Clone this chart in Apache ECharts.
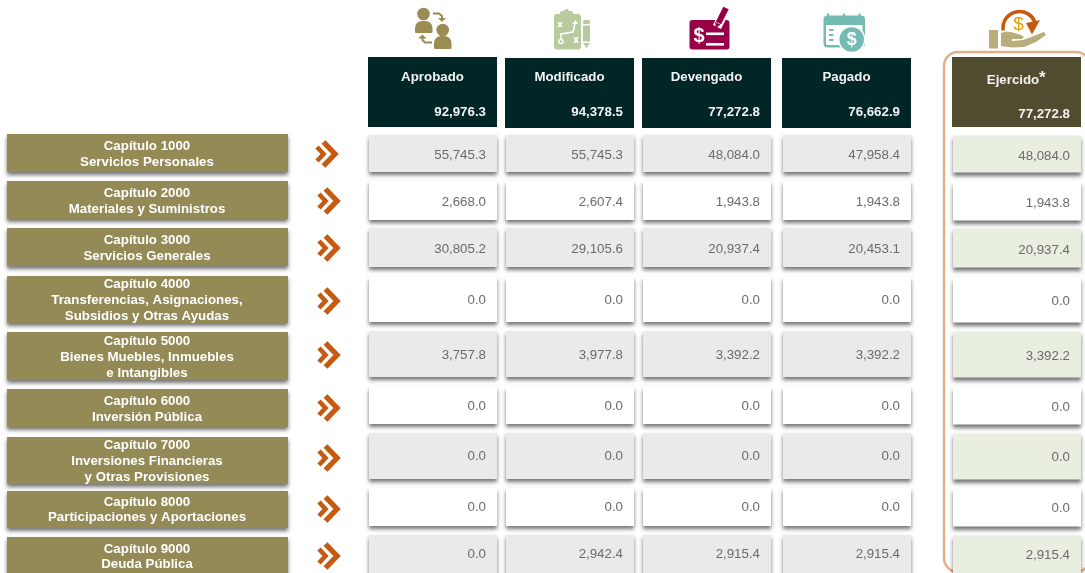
<!DOCTYPE html>
<html>
<head>
<meta charset="utf-8">
<style>
  html, body { margin: 0; padding: 0; background: #fff; }
  #chart { width: 1085px; height: 573px; }
</style>
<script src="https://cdn.jsdelivr.net/npm/echarts@6/dist/echarts.min.js"></script>
</head>
<body>
<div id="chart"></div>
<script>
// datos de la tabla
const categories = [
  'Capítulo 1000\nServicios Personales',
  'Capítulo 2000\nMateriales y Suministros',
  'Capítulo 3000\nServicios Generales',
  'Capítulo 4000\nTransferencias, Asignaciones,\nSubsidios y Otras Ayudas',
  'Capítulo 5000\nBienes Muebles, Inmuebles\ne Intangibles',
  'Capítulo 6000\nInversión Pública',
  'Capítulo 7000\nInversiones Financieras\ny Otras Provisiones',
  'Capítulo 8000\nParticipaciones y Aportaciones',
  'Capítulo 9000\nDeuda Pública'
]
const columnNames = ['Aprobado', 'Modificado', 'Devengado', 'Pagado', 'Ejercido']
const totals = [92976.3, 94378.5, 77272.8, 76662.9, 77272.8]
const aprobado = [55745.3, 2668.0, 30805.2, 0, 3757.8, 0, 0, 0, 0]
const modificado = [55745.3, 2607.4, 29105.6, 0, 3977.8, 0, 0, 0, 2942.4]
const devengado = [48084.0, 1943.8, 20937.4, 0, 3392.2, 0, 0, 0, 2915.4]
const pagado = [47958.4, 1943.8, 20453.1, 0, 3392.2, 0, 0, 0, 2915.4]
const ejercido = [48084.0, 1943.8, 20937.4, 0, 3392.2, 0, 0, 0, 2915.4]
const columnValues = [aprobado, modificado, devengado, pagado, ejercido]

// posiciones de la maqueta (en unidades del eje, igual a px)
const colLeft = [368, 505, 642, 782, 952]
const colWidth = 129
const headTop = [57, 58, 58, 58, 57]
const labelTop = [134, 181, 228, 276, 332, 389, 437, 491, 537]
const labelBottom = [172, 219, 266, 323, 380, 427, 484, 528, 576]
const labelY = [154.8, 201.8, 248.8, 300.3, 357.8, 409.8, 461.3, 510, 557]
const labelLine = [16, 16, 16, 16, 16, 16, 16, 15, 15]
const cellTop = [135, 181, 228, 277, 331, 387, 433, 488, 535]
const cellBottom = [172, 220, 267, 322, 377, 424, 479, 526, 578]
const valueY = [155.5, 202.5, 249, 300.5, 355.7, 406.3, 456.3, 507.3, 554.7]
const chevronX = [316, 318, 318, 318, 318, 318, 318, 318, 318]
const chevronY = [154, 201, 248, 301, 355, 408, 458, 509, 556]

const FONT = '"Liberation Sans", Arial, sans-serif'
const fmt = v => v.toLocaleString('en-US', { minimumFractionDigits: 1, maximumFractionDigits: 1 })

const box = (api, x1, y1, x2, y2, style) => {
  const a = api.coord([x1, y1])
  const b = api.coord([x2, y2])
  return { type: 'rect', shape: { x: a[0], y: a[1], width: b[0] - a[0], height: b[1] - a[1] }, style }
}
const label = (api, x, y, text, style) => {
  const p = api.coord([x, y])
  return {
    type: 'text',
    style: Object.assign({ x: p[0], y: p[1], text, fontFamily: FONT, verticalAlign: 'middle', textVerticalAlign: 'middle' }, style)
  }
}
const shadow = { shadowBlur: 4, shadowOffsetX: 0, shadowOffsetY: 3, shadowColor: 'rgba(0,0,0,0.55)' }

const baseCustom = { type: 'custom', coordinateSystem: 'cartesian2d', silent: true, clip: false, animation: false }

const labelSeries = Object.assign({}, baseCustom, {
  name: 'Capítulos',
  data: categories.map((c, i) => [i]),
  renderItem: (params, api) => {
    const i = api.value(0)
    return {
      type: 'group',
      children: [
        box(api, 7, labelTop[i], 288, labelBottom[i], Object.assign({ fill: '#948a56' }, shadow)),
        label(api, 147, labelY[i], categories[i], {
          align: 'center', textAlign: 'center', fontSize: 13.3, fontWeight: 'bold', fill: '#fff', lineHeight: labelLine[i]
        })
      ]
    }
  }
})

const chevronSeries = Object.assign({}, baseCustom, {
  name: 'Flechas',
  data: categories.map((c, i) => [i]),
  renderItem: (params, api) => {
    const i = api.value(0)
    const x = chevronX[i]
    const y = chevronY[i]
    const line = (pts, lw) => ({
      type: 'polyline',
      shape: { points: pts.map(p => api.coord([x + p[0], y + p[1]])) },
      style: { fill: null, stroke: '#c55a11', lineWidth: lw, lineCap: 'butt', lineJoin: 'miter' }
    })
    return {
      type: 'group',
      children: [
        line([[1, -7], [7.5, 0], [1, 7]], 4.6),
        line([[7.5, -12], [19, 0], [7.5, 12]], 5.4)
      ]
    }
  }
})

const columnSeries = columnValues.map((values, c) => Object.assign({}, baseCustom, {
  name: columnNames[c],
  data: values.map((v, i) => [i, v]),
  renderItem: (params, api) => {
    const i = api.value(0)
    const isEjercido = c === 4
    const stripe = isEjercido ? '#e8eee0' : '#eaeaea'
    const x = colLeft[c]
    return {
      type: 'group',
      children: [
        box(api, x + 1, cellTop[i] + (isEjercido ? 0.5 : 0), x + colWidth, cellBottom[i] + (isEjercido ? 0.5 : 0),
          Object.assign({ fill: i % 2 === 0 ? stripe : '#fff' }, shadow)),
        label(api, x + colWidth - 11, valueY[i] + (isEjercido ? 1 : 0), fmt(api.value(1)), {
          align: 'right', textAlign: 'right', fontSize: 13.3, fill: '#6b6b6b'
        })
      ]
    }
  }
}))

const headerSeries = Object.assign({}, baseCustom, {
  name: 'Totales',
  data: totals.map((t, i) => [i, t]),
  renderItem: (params, api) => {
    const c = api.value(0)
    const x = colLeft[c]
    const isEjercido = c === 4
    const children = [
      box(api, x, headTop[c], x + colWidth, headTop[c] + 70, { fill: isEjercido ? '#514b2f' : '#022626' }),
      label(api, isEjercido ? x + 61 : x + colWidth / 2, isEjercido ? 80 : 77, columnNames[c], {
        align: 'center', textAlign: 'center', fontSize: 13.3, fontWeight: 'bold', fill: '#f2f2f2'
      }),
      label(api, x + colWidth - 11, isEjercido ? 114 : 112, fmt(api.value(1)), {
        align: 'right', textAlign: 'right', fontSize: 13.3, fontWeight: 'bold', fill: '#f2f2f2'
      })
    ]
    if (isEjercido) {
      children.push(label(api, 1039, 78.5, '*', { align: 'left', textAlign: 'left', fontSize: 17, fontWeight: 'bold', fill: '#f2f2f2' }))
    }
    return { type: 'group', children }
  }
})

// iconos de la cabecera
const gold = '#9a8c52'
const sage = '#b7cb9f'
const wine = '#970048'
const teal = '#74bcb3'
const khaki = '#b8ae7c'
const orange = '#c55a11'

const circle = (cx, cy, r, style) => ({ type: 'circle', shape: { cx, cy, r }, style })
const rect = (x, y, width, height, r, fill) => ({ type: 'rect', shape: { x, y, width, height, r }, style: { fill } })
const poly = (points, stroke, lineWidth) => ({ type: 'polyline', shape: { points }, style: { fill: null, stroke, lineWidth } })
const tri = (points, fill) => ({ type: 'polygon', shape: { points }, style: { fill } })
const txt = (x, y, text, fontSize, fill, fontWeight) => ({
  type: 'text', x, y,
  style: { text, fontSize, fill, fontFamily: FONT, fontWeight: fontWeight || 'bold', textAlign: 'center', textVerticalAlign: 'middle', align: 'center', verticalAlign: 'middle' }
})
const bodyShape = (x, y, w, h, fill) => rect(x, y, w, h, [7, 7, 1, 1], fill)

const icons = [
  // Aprobado
  circle(423.5, 14, 6.3, { fill: gold }),
  bodyShape(415, 21, 17.5, 12, gold),
  circle(442.7, 30, 6.3, { fill: gold }),
  bodyShape(434, 36, 17.5, 13, gold),
  poly([[433, 13.5], [439, 13.5], [442, 16], [442, 19]], gold, 2),
  tri([[438, 18], [446, 18], [442, 22]], gold),
  poly([[432, 42.5], [425, 42.5], [422.5, 40], [422.5, 38]], gold, 2),
  tri([[418, 38.5], [426.5, 38.5], [422.5, 34.5]], gold),
  // Modificado
  rect(554, 14, 27, 35.5, 3, sage),
  rect(560, 11, 13, 5.5, 2, sage),
  circle(566.5, 11.5, 2.5, { fill: sage }),
  rect(583, 20, 7, 4, 1.5, sage),
  rect(583, 25.5, 7, 16, 0, sage),
  tri([[583, 43], [590, 43], [586.5, 48]], sage),
  poly([[558, 22], [562, 27]], '#fff', 1.6),
  poly([[562, 22], [558, 27]], '#fff', 1.6),
  poly([[574, 37], [578, 43]], '#fff', 1.6),
  poly([[578, 37], [574, 43]], '#fff', 1.6),
  circle(561, 41.5, 2, { fill: sage, stroke: '#fff', lineWidth: 1.4 }),
  poly([[561, 39], [561, 34], [573, 32], [575, 23]], '#fff', 1.5),
  tri([[572.5, 24], [578, 24], [575.5, 20]], '#fff'),
  // Devengado
  rect(689.5, 20, 40, 29.5, 3, wine),
  poly([[725, 11], [717, 27]], '#fff', 9),
  poly([[726, 8], [718.5, 23]], wine, 6),
  tri([[715, 22], [720.5, 24.5], [716, 28]], wine),
  txt(699, 36, '$', 20, '#fff'),
  rect(706, 32.5, 18, 2.6, 0, '#fff'),
  rect(706, 43, 18, 2.6, 0, '#fff'),
  // Pagado
  rect(823.5, 15.5, 41.5, 32, 4, teal),
  rect(826, 25, 36.5, 20, 1, '#fff'),
  rect(827, 13.5, 2.2, 5, 0, teal),
  rect(843, 13.5, 2.2, 5, 0, teal),
  rect(858.5, 13.5, 2.2, 5, 0, teal),
  rect(829, 29, 4.5, 2, 0, teal),
  rect(829, 34, 4.5, 2, 0, teal),
  rect(829, 39, 4.5, 2, 0, teal),
  circle(851.7, 39.5, 13, { fill: teal, stroke: '#fff', lineWidth: 1.5 }),
  txt(851.7, 40, '$', 18, '#fff'),
  // Ejercido
  rect(989, 30, 9, 18.5, 0, khaki),
  tri([[1001, 33], [1006, 31.5], [1011, 32], [1021, 35], [1024, 37], [1022, 39], [1012, 39], [1012, 41], [1023, 40], [1044, 32], [1046, 35], [1036, 42], [1024, 47], [1012, 47.5], [1001, 46]], khaki),
  {
    type: 'arc',
    shape: { cx: 1019.5, cy: 28, r: 16.5, startAngle: Math.PI * 0.95, endAngle: Math.PI * 1.88, clockwise: true },
    style: { fill: null, stroke: orange, lineWidth: 3.6 }
  },
  tri([[1026, 23], [1040, 20], [1032, 34.5]], orange),
  txt(1018.5, 25, '$', 19, '#e0a10b', 'normal')
]

const frame = {
  type: 'rect',
  shape: { x: 944, y: 52, width: 146, height: 520, r: 14 },
  style: { fill: null, stroke: '#e4ad86', lineWidth: 2.4 }
}

const chart = echarts.init(document.getElementById('chart'), null, { renderer: 'canvas' })

chart.setOption({
  animation: false,
  backgroundColor: '#fff',
  grid: { left: 0, right: 0, top: 0, bottom: 0 },
  xAxis: { type: 'value', min: 0, max: 1085, show: false },
  yAxis: { type: 'value', min: 0, max: 573, inverse: true, show: false },
  graphic: { elements: [frame].concat(icons).map(e => Object.assign({ silent: true }, e)) },
  series: [labelSeries, chevronSeries, headerSeries].concat(columnSeries)
})
</script>
</body>
</html>
